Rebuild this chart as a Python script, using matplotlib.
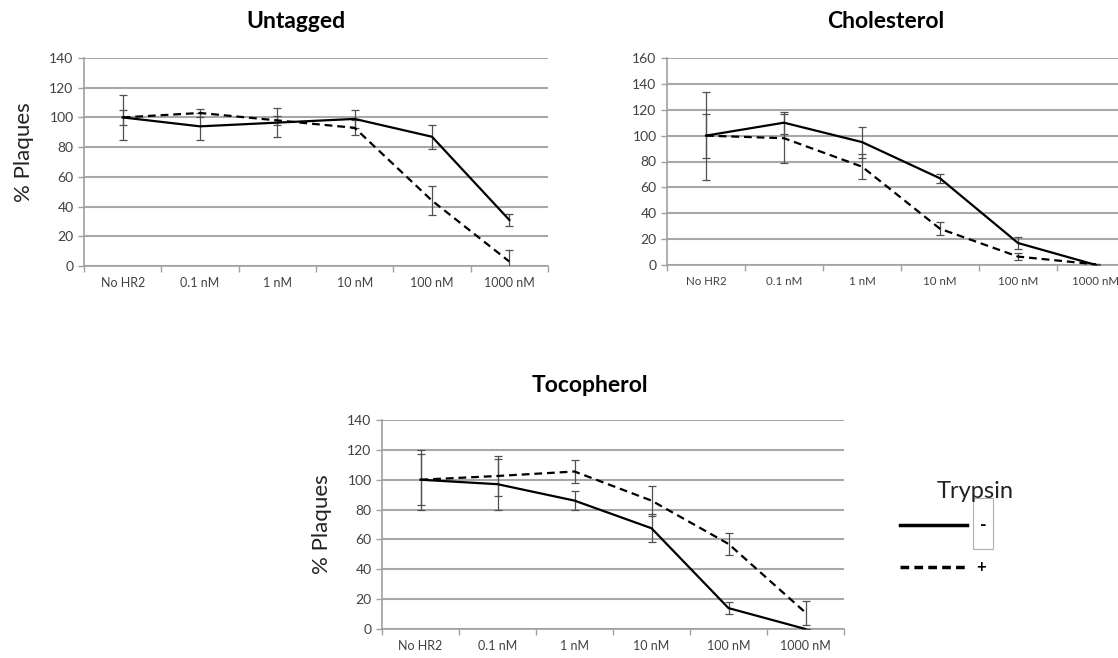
import matplotlib
matplotlib.use("Agg")
from matplotlib import pyplot as plt
from matplotlib.lines import Line2D
from matplotlib.patches import Rectangle

plt.rcParams['font.family'] = ['Lato', 'DejaVu Sans']

# 数据：浓度类别
categories = ["No HR2", "0.1 nM", "1 nM", "10 nM", "100 nM", "1000 nM"]

# Untagged
untagged_minus = [100, 94, 96.5, 99, 87, 31]
untagged_minus_err = [15, 9, 10, 6, 8, 4]
untagged_plus = [100, 103, 98, 93, 44, 3]
untagged_plus_err = [5, 3, 3, 5, 10, 7.5]

# Cholesterol
chol_minus = [100, 110, 95, 67, 17, 0]
chol_minus_err = [34, 8.5, 12, 3.5, 5, 0]
chol_plus = [100, 98, 76, 28, 6.5, 0.5]
chol_plus_err = [17, 19, 9.5, 5, 2.5, 0]

# Tocopherol
toco_minus = [100, 97, 86, 67.5, 14, 0]
toco_minus_err = [20, 17, 6.5, 9.5, 4, 0]
toco_plus = [100, 102.5, 105.5, 86, 57, 11]
toco_plus_err = [17, 13.5, 8, 10, 7.5, 8]

W, H = 1118, 658
fig = plt.figure(figsize=(W / 100, H / 100), dpi=100)


def px_axes(left, right, top, bottom):
    # 像素坐标 -> figure 坐标
    return fig.add_axes([left / W, 1 - bottom / H, (right - left) / W, (bottom - top) / H])


def draw_panel(ax, minus, minus_err, plus, plus_err, ymax, xsize=9):
    x = list(range(len(categories)))
    ax.errorbar(x, minus, yerr=minus_err, color='black', lw=1.6, ecolor='#505050',
                elinewidth=0.9, capsize=3, capthick=0.9, zorder=3)
    ax.errorbar(x, plus, yerr=plus_err, color='black', lw=1.6, ls=(0, (3.5, 2.2)),
                ecolor='#505050', elinewidth=0.9, capsize=3, capthick=0.9, zorder=3)
    ax.set_xlim(-0.5, len(categories) - 0.5)
    ax.set_ylim(0, ymax)
    ax.set_yticks(range(0, ymax + 1, 20))
    ax.set_xticks([i - 0.5 for i in range(len(categories) + 1)])
    ax.set_xticklabels([])
    ax.set_xticks(x, minor=True)
    ax.set_xticklabels(categories, minor=True)
    ax.tick_params(axis='x', which='major', length=4, color='#a0a0a0', width=1)
    ax.tick_params(axis='x', which='minor', length=0, pad=8, labelsize=xsize, labelcolor='#404040')
    ax.tick_params(axis='y', length=4, color='#a0a0a0', width=1, labelsize=10, labelcolor='#404040')
    ax.grid(axis='y', color='#a8a8a8', lw=1.5)
    ax.set_axisbelow(True)
    for s in ['top', 'right']:
        ax.spines[s].set_visible(False)
    for s in ['left', 'bottom']:
        ax.spines[s].set_color('#a0a0a0')
        ax.spines[s].set_linewidth(1.2)


ax1 = px_axes(84, 548, 58, 266)
draw_panel(ax1, untagged_minus, untagged_minus_err, untagged_plus, untagged_plus_err, 140)

ax2 = px_axes(667, 1135, 58, 265)
draw_panel(ax2, chol_minus, chol_minus_err, chol_plus, chol_plus_err, 160, xsize=8.3)

ax3 = px_axes(382, 844, 420, 629)
draw_panel(ax3, toco_minus, toco_minus_err, toco_plus, toco_plus_err, 140)

fig.text(296 / W, 1 - 22 / H, "Untagged", ha='center', va='center', fontsize=16.5, fontweight='bold')
fig.text(886 / W, 1 - 22 / H, "Cholesterol", ha='center', va='center', fontsize=16.5, fontweight='bold')
fig.text(590 / W, 1 - 385 / H, "Tocopherol", ha='center', va='center', fontsize=16.5, fontweight='bold')

fig.text(24 / W, 1 - 152 / H, "% Plaques", rotation=90, ha='center', va='center', fontsize=16, color='#222222')
fig.text(322 / W, 1 - 524 / H, "% Plaques", rotation=90, ha='center', va='center', fontsize=16, color='#222222')

# 图例
fig.text(975 / W, 1 - 492 / H, "Trypsin", ha='center', va='center', fontsize=17, color='#222222')
fig.add_artist(Line2D([900 / W, 967 / W], [1 - 525 / H] * 2, color='black', lw=2.5, transform=fig.transFigure))
fig.add_artist(Rectangle((973 / W, 1 - 549 / H), 20 / W, 51 / H, fill=False, ec='#b0b0b0', lw=0.8,
                         transform=fig.transFigure))
fig.text(983 / W, 1 - 525 / H, "-", ha='center', va='center', fontsize=13, fontweight='bold')
fig.add_artist(Line2D([900 / W, 967 / W], [1 - 567 / H] * 2, color='black', lw=2.5, ls=(0, (2.5, 1.5)),
                      transform=fig.transFigure))
fig.text(981 / W, 1 - 567 / H, "+", ha='center', va='center', fontsize=12, fontweight='bold')

fig.savefig("out.png", dpi=100)
